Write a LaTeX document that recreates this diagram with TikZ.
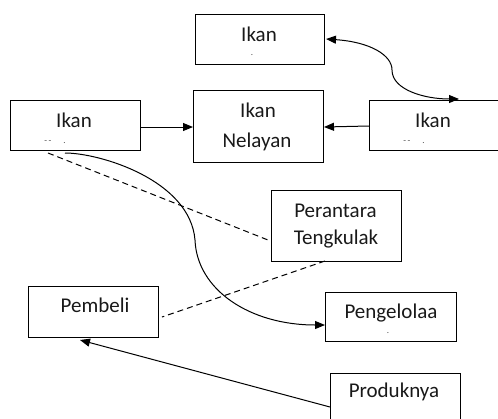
\documentclass[tikz,border=0pt]{standalone}
\usepackage{fontspec}
\setmainfont{Carlito}
\usetikzlibrary{arrows.meta}
\begin{document}
\begin{tikzpicture}[x=1pt,y=-1pt,
  box/.style={draw, line width=1.2pt, rectangle, inner sep=0pt, anchor=north west},
  lbl/.style={anchor=base, inner sep=0pt, font=\fontsize{21}{29}\selectfont, text=black!90},
  tiny/.style={anchor=base, inner sep=0pt, font=\fontsize{9}{9}\selectfont, text=black!70},
  conn/.style={line width=1pt, -{Triangle[length=10pt,width=8pt]}},
  dconn/.style={line width=1pt, {Triangle[length=10pt,width=8pt]}-{Triangle[length=10pt,width=8pt]}},
  dsh/.style={line width=1pt, dash pattern=on 6pt off 4pt}]
\useasboundingbox (0,0) rectangle (498,418);
\clip (0,0) rectangle (498,418);
% boxes
\node[box, minimum width=129pt, minimum height=50pt] (ikantop) at (195,14) {};
\node[box, minimum width=130pt, minimum height=72pt] (nelayan) at (193,90) {};
\node[box, minimum width=130pt, minimum height=50pt] (ikanL) at (10,100) {};
\node[box, minimum width=135pt, minimum height=50pt] (ikanR) at (369,100) {};
\node[box, minimum width=130pt, minimum height=71pt] (perantara) at (271,190) {};
\node[box, minimum width=130pt, minimum height=51pt] (pembeli) at (28,286) {};
\node[box, minimum width=131pt, minimum height=49pt] (pengelola) at (325,292) {};
\node[box, minimum width=130pt, minimum height=60pt] (produk) at (330,373) {};
% texts
\node[lbl] (t1) at (259,41) {Ikan};
\node[lbl] (t2) at (258,117) {Ikan};
\node[lbl] (t3) at (257,147) {Nelayan};
\node[lbl] (t4) at (74,127) {Ikan};
\node[lbl] (t5) at (433,127) {Ikan};
\node[lbl] (t6) at (335.5,217) {Perantara};
\node[lbl] (t7) at (336,244) {Tengkulak};
\node[lbl] (t8) at (95,312) {Pembeli};
\node[lbl] (t9) at (391,318) {Pengelolaa};
\node[lbl] (t10) at (394,397) {Produknya};
% clipped remnants
\node[tiny] (d1) at (252,55) {.};
\node[tiny] (d2) at (55,143) {-\,-\hspace{12pt}.};
\node[tiny] (d3) at (414,143) {-\,-\hspace{12pt}.};
\node[tiny] (d4) at (388,333) {.};
% coordinates
\coordinate (a1) at (140,127);
\coordinate (a2) at (193,127);
\coordinate (b1) at (369,126);
\coordinate (b2) at (324,127);
\coordinate (c1) at (326,39);
\coordinate (c2) at (459,99);
\coordinate (e1) at (48,153);
\coordinate (e2) at (268,240);
\coordinate (f1) at (325,261);
\coordinate (f2) at (162,317);
\coordinate (g1) at (65,153);
\coordinate (g2) at (325,325);
\coordinate (h1) at (330,407);
\coordinate (h2) at (80,340);
% connectors
\draw[conn] (a1) -- (a2);
\draw[conn] (b1) -- (b2);
\draw[dconn] (c1) .. controls (370,42) and (392,55) .. (392,70) .. controls (392,90) and (425,99) .. (c2);
\draw[dsh] (e1) -- (e2);
\draw[dsh] (f1) -- (f2);
\draw[conn] (g1) .. controls (100,153) and (190,180) .. (195,240) .. controls (197,290) and (250,325) .. (g2);
\draw[conn] (h1) -- (h2);
\end{tikzpicture}
\end{document}
